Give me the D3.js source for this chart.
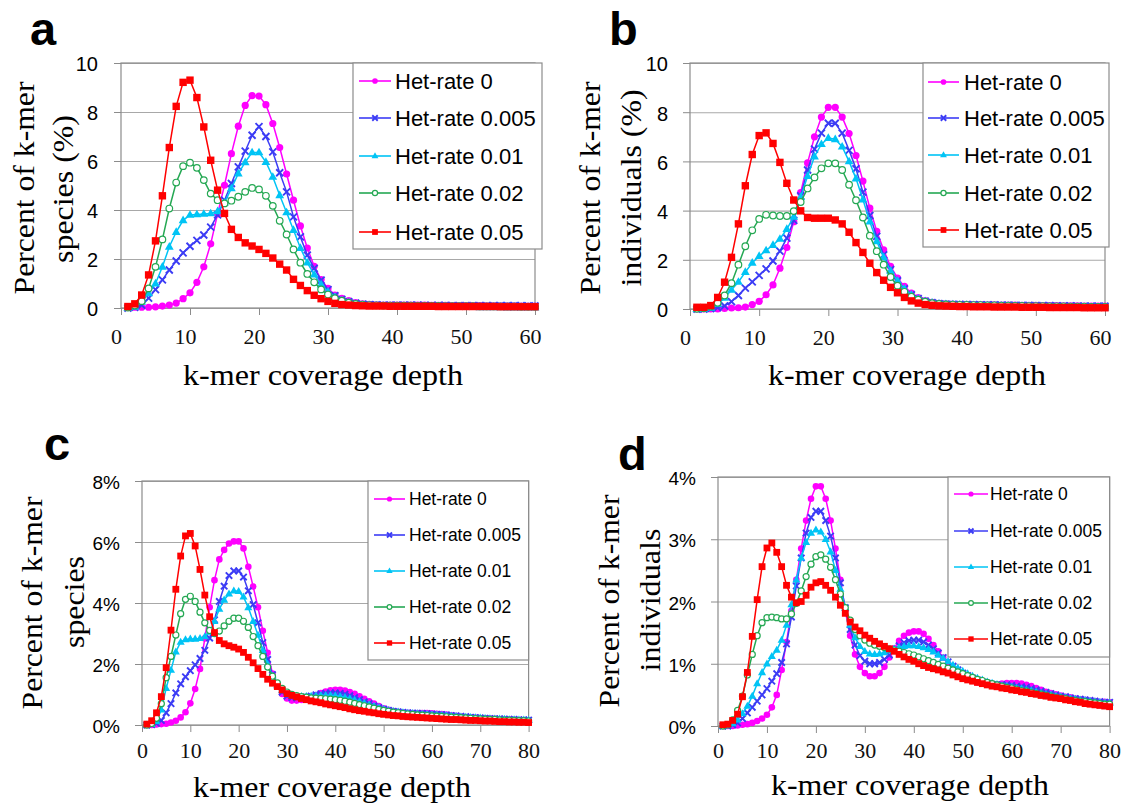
<!DOCTYPE html>
<html><head><meta charset="utf-8">
<script src="https://cdn.jsdelivr.net/npm/d3@7"></script>
<style>body{margin:0;background:#fff}svg{display:block}</style>
</head><body>
<svg id="chart" width="1129" height="807"></svg>
<script>
// ---------------- DATA ----------------
const seriesNames = ["Het-rate 0", "Het-rate 0.005", "Het-rate 0.01", "Het-rate 0.02", "Het-rate 0.05"];
const depth60 = d3.range(1, 61);
const depth80 = d3.range(1, 81);
const xTicks60 = [0, 10, 20, 30, 40, 50, 60];
const xTicks80 = [0, 10, 20, 30, 40, 50, 60, 70, 80];
const yTicksA = [0, 2, 4, 6, 8, 10];
const yTicksC = [0, 2, 4, 6, 8];
const yTicksD = [0, 1, 2, 3, 4];

// Panel a: percent of k-mer species (%), depth 1..60
const aHet0 = [0.03,0.03,0.03,0.03,0.05,0.08,0.12,0.2,0.38,0.62, 1.05,1.68,2.62,3.84,5.01,6.3,7.42,8.27,8.67,8.65, 8.3,7.53,6.55,5.47,4.4,3.35,2.45,1.7,1.16,0.8, 0.53,0.39,0.3,0.22,0.17,0.15,0.13,0.12,0.12,0.12, 0.12,0.12,0.12,0.12,0.11,0.11,0.11,0.1,0.1,0.1, 0.1,0.1,0.09,0.09,0.09,0.09,0.09,0.08,0.08,0.08];
const aHet005 = [0,0.03,0.12,0.4,0.75,1.15,1.55,1.92,2.25,2.52, 2.76,2.98,3.3,3.8,4.4,5.08,5.76,6.4,7.05,7.4, 7.0,6.37,5.52,4.74,3.72,2.9,2.16,1.62,1.14,0.75, 0.5,0.35,0.26,0.2,0.16,0.14,0.13,0.12,0.12,0.12, 0.12,0.12,0.12,0.11,0.11,0.11,0.11,0.1,0.1,0.1, 0.1,0.1,0.1,0.09,0.09,0.09,0.09,0.09,0.08,0.08];
const aHet01 = [0,0.05,0.25,0.6,1.0,1.68,2.5,3.1,3.58,3.8, 3.82,3.84,3.86,3.95,4.3,4.88,5.49,5.95,6.35,6.35, 5.96,5.35,4.6,3.9,3.18,2.45,1.85,1.36,0.96,0.66, 0.45,0.31,0.22,0.16,0.12,0.1,0.09,0.08,0.08,0.07, 0.07,0.07,0.06,0.06,0.06,0.05,0.05,0.05,0.04,0.04, 0.04,0.03,0.03,0.03,0.03,0.02,0.02,0.02,0.02,0.02];
const aHet02 = [0.02,0.1,0.28,0.8,1.68,2.8,4.06,5.12,5.79,5.93, 5.72,5.22,4.67,4.4,4.27,4.38,4.54,4.74,4.9,4.84, 4.58,4.17,3.56,3.0,2.39,1.85,1.39,1.05,0.76,0.55, 0.4,0.3,0.22,0.17,0.14,0.12,0.11,0.1,0.1,0.1, 0.1,0.1,0.09,0.09,0.09,0.09,0.08,0.08,0.08,0.08, 0.08,0.07,0.07,0.07,0.07,0.07,0.07,0.06,0.06,0.06];
const aHet05 = [0.06,0.17,0.53,1.35,2.74,4.58,6.55,8.23,9.21,9.3, 8.59,7.39,6.03,4.81,3.86,3.21,2.88,2.66,2.53,2.39, 2.23,2.04,1.79,1.55,1.17,0.92,0.71,0.52,0.38,0.27, 0.19,0.14,0.12,0.1,0.09,0.08,0.08,0.08,0.07,0.07, 0.07,0.07,0.07,0.07,0.07,0.06,0.06,0.06,0.06,0.06, 0.06,0.06,0.06,0.06,0.05,0.05,0.05,0.05,0.05,0.05];

// Panel b: percent of k-mer individuals (%), depth 1..60
const bHet0 = [0,0,0,0,0.02,0.04,0.05,0.08,0.18,0.31, 0.58,0.98,1.66,2.5,3.55,4.73,5.94,7.0,7.8,8.2, 8.2,7.8,7.13,6.24,5.2,4.1,3.16,2.4,1.73,1.26, 0.92,0.65,0.46,0.34,0.27,0.23,0.21,0.2,0.19,0.19, 0.18,0.18,0.17,0.17,0.16,0.16,0.16,0.15,0.15,0.15, 0.14,0.14,0.14,0.13,0.13,0.13,0.12,0.12,0.12,0.12];
const bHet005 = [0,0,0.02,0.06,0.13,0.3,0.55,0.85,1.1,1.37, 1.63,1.95,2.35,2.88,3.6,4.6,5.65,6.5,7.15,7.55, 7.55,7.15,6.45,5.7,4.75,3.8,2.95,2.2,1.6,1.15, 0.82,0.58,0.42,0.32,0.26,0.22,0.2,0.19,0.19,0.18, 0.18,0.17,0.17,0.17,0.16,0.16,0.15,0.15,0.15,0.14, 0.14,0.14,0.13,0.13,0.13,0.12,0.12,0.12,0.12,0.11];
const bHet01 = [0,0.01,0.05,0.2,0.45,0.78,1.1,1.5,1.88,2.15, 2.38,2.6,2.85,3.25,3.75,4.55,5.4,6.2,6.7,6.95, 6.9,6.6,6.0,5.3,4.45,3.55,2.75,2.1,1.55,1.15, 0.82,0.58,0.42,0.32,0.25,0.21,0.19,0.18,0.17,0.16, 0.15,0.15,0.14,0.13,0.13,0.12,0.11,0.11,0.1,0.1, 0.09,0.09,0.08,0.08,0.07,0.07,0.06,0.06,0.05,0.05];
const bHet02 = [0.01,0.03,0.1,0.25,0.55,1.05,1.8,2.55,3.2,3.66, 3.83,3.8,3.78,3.78,3.98,4.35,4.9,5.35,5.72,5.92, 5.92,5.65,5.05,4.42,3.72,2.98,2.35,1.8,1.3,0.95, 0.7,0.5,0.38,0.3,0.24,0.21,0.19,0.18,0.17,0.17, 0.16,0.16,0.15,0.15,0.14,0.14,0.13,0.13,0.12,0.12, 0.12,0.11,0.11,0.11,0.1,0.1,0.1,0.09,0.09,0.09];
const bHet05 = [0.07,0.07,0.14,0.47,1.09,2.1,3.46,5.01,6.28,7.05, 7.16,6.73,5.96,5.11,4.43,3.99,3.72,3.69,3.69,3.69, 3.62,3.46,3.12,2.7,2.3,1.86,1.48,1.17,0.88,0.66, 0.47,0.33,0.24,0.18,0.15,0.13,0.12,0.11,0.1,0.1, 0.09,0.09,0.09,0.08,0.08,0.08,0.08,0.07,0.07,0.07, 0.07,0.06,0.06,0.06,0.06,0.06,0.05,0.05,0.05,0.05];

// Panel c: percent of k-mer species, depth 1..80
const cHet0 = [0,0,0.02,0.03,0.04,0.08,0.14,0.25,0.42,0.71, 1.18,1.84,2.84,3.86,4.75,5.43,5.74,5.95,6.02,6.02, 5.79,5.19,4.54,3.86,3.09,2.37,1.69,1.28,1.02,0.87, 0.8,0.8,0.82,0.86,0.92,0.98,1.05,1.1,1.14,1.15, 1.15,1.13,1.08,1.02,0.94,0.86,0.78,0.7,0.62,0.55, 0.5,0.46,0.43,0.41,0.4,0.39,0.39,0.39,0.39,0.38, 0.37,0.36,0.34,0.32,0.3,0.28,0.26,0.25,0.24,0.23, 0.22,0.21,0.2,0.19,0.18,0.18,0.17,0.16,0.16,0.15];
const cHet005 = [0,0.01,0.05,0.15,0.4,0.7,1.05,1.35,1.58,1.78, 1.97,2.18,2.45,2.85,3.45,4.05,4.55,4.9,5.05,5.05, 4.85,4.4,3.95,3.35,2.7,2.15,1.65,1.3,1.08,0.95, 0.9,0.89,0.9,0.92,0.95,0.99,1.02,1.04,1.05,1.05, 1.04,1.01,0.96,0.9,0.83,0.76,0.7,0.63,0.57,0.52, 0.48,0.45,0.43,0.41,0.4,0.39,0.38,0.38,0.37,0.36, 0.35,0.34,0.33,0.31,0.3,0.28,0.27,0.25,0.24,0.23, 0.22,0.21,0.2,0.2,0.19,0.18,0.18,0.17,0.17,0.16];
const cHet01 = [0,0.02,0.12,0.5,1.2,1.8,2.4,2.72,2.8,2.82, 2.82,2.84,2.9,3.05,3.4,3.8,4.1,4.3,4.4,4.38, 4.2,3.85,3.4,2.95,2.45,2.0,1.6,1.32,1.14,1.04, 0.98,0.95,0.94,0.94,0.95,0.96,0.97,0.97,0.97,0.96, 0.94,0.91,0.87,0.82,0.77,0.72,0.67,0.62,0.57,0.52, 0.48,0.45,0.43,0.41,0.39,0.38,0.37,0.36,0.35,0.34, 0.33,0.32,0.31,0.3,0.28,0.27,0.26,0.25,0.24,0.23, 0.22,0.21,0.2,0.2,0.19,0.18,0.18,0.17,0.17,0.16];
const cHet02 = [0,0.05,0.22,0.7,1.55,2.25,2.95,3.65,4.12,4.22, 4.05,3.7,3.35,3.1,3.0,3.08,3.25,3.4,3.5,3.5, 3.4,3.2,2.9,2.6,2.25,1.9,1.6,1.38,1.2,1.08, 1.0,0.96,0.93,0.91,0.89,0.88,0.87,0.86,0.85,0.83, 0.81,0.78,0.75,0.71,0.67,0.63,0.59,0.55,0.51,0.48, 0.45,0.42,0.4,0.38,0.36,0.35,0.33,0.32,0.31,0.3, 0.29,0.28,0.27,0.26,0.25,0.24,0.23,0.22,0.21,0.2, 0.19,0.18,0.18,0.17,0.16,0.16,0.15,0.14,0.14,0.13];
const cHet05 = [0.03,0.14,0.4,0.93,1.88,3.11,4.45,5.54,6.2,6.28, 5.87,5.1,4.26,3.55,3.03,2.77,2.66,2.6,2.55,2.49, 2.38,2.22,2.04,1.85,1.66,1.5,1.37,1.26,1.15,1.03, 0.97,0.92,0.87,0.83,0.79,0.76,0.73,0.69,0.66,0.63, 0.6,0.57,0.53,0.5,0.47,0.45,0.42,0.4,0.37,0.35, 0.33,0.31,0.3,0.28,0.27,0.26,0.25,0.24,0.23,0.22, 0.21,0.2,0.19,0.18,0.18,0.17,0.16,0.15,0.15,0.14, 0.13,0.13,0.12,0.11,0.11,0.1,0.1,0.09,0.09,0.08];

// Panel d: percent of k-mer individuals, depth 1..80
const dHet0 = [0,0,0,0.01,0.02,0.03,0.05,0.08,0.12,0.18, 0.3,0.5,0.9,1.35,1.85,2.35,2.85,3.3,3.65,3.85, 3.85,3.65,3.3,2.85,2.35,1.85,1.45,1.15,0.95,0.85, 0.8,0.8,0.85,0.95,1.1,1.25,1.37,1.45,1.5,1.52, 1.52,1.48,1.4,1.3,1.2,1.1,1.0,0.92,0.85,0.8, 0.76,0.73,0.7,0.68,0.67,0.67,0.67,0.68,0.69,0.69, 0.69,0.68,0.66,0.64,0.61,0.58,0.55,0.53,0.51,0.49, 0.47,0.46,0.44,0.43,0.42,0.41,0.4,0.39,0.39,0.38];
const dHet005 = [0,0,0.02,0.05,0.12,0.21,0.3,0.4,0.5,0.6, 0.72,0.84,1.02,1.32,1.75,2.25,2.7,3.1,3.35,3.45, 3.45,3.3,3.05,2.7,2.3,1.9,1.55,1.3,1.13,1.04, 1.0,1.0,1.02,1.07,1.14,1.22,1.29,1.34,1.37,1.38, 1.38,1.35,1.3,1.24,1.17,1.1,1.03,0.96,0.9,0.85, 0.81,0.77,0.74,0.71,0.69,0.67,0.66,0.66,0.66,0.65, 0.64,0.63,0.62,0.6,0.58,0.56,0.54,0.52,0.5,0.48, 0.47,0.45,0.44,0.43,0.42,0.41,0.4,0.39,0.38,0.38];
const dHet01 = [0,0.01,0.04,0.1,0.2,0.32,0.48,0.68,0.86,1.0, 1.12,1.22,1.38,1.62,1.95,2.35,2.7,2.95,3.1,3.15, 3.12,3.0,2.8,2.5,2.2,1.9,1.62,1.42,1.28,1.2, 1.16,1.15,1.16,1.18,1.21,1.24,1.26,1.28,1.29,1.29, 1.28,1.26,1.23,1.19,1.14,1.09,1.04,0.98,0.93,0.88, 0.84,0.8,0.77,0.74,0.71,0.69,0.67,0.65,0.64,0.63, 0.61,0.6,0.58,0.57,0.55,0.53,0.51,0.5,0.48,0.47, 0.45,0.44,0.43,0.42,0.41,0.4,0.39,0.38,0.37,0.37];
const dHet02 = [0,0.02,0.1,0.25,0.48,0.82,1.15,1.45,1.66,1.74, 1.75,1.74,1.72,1.72,1.8,1.97,2.17,2.4,2.6,2.72, 2.75,2.68,2.55,2.35,2.12,1.9,1.7,1.55,1.45,1.38, 1.33,1.3,1.28,1.26,1.24,1.22,1.2,1.18,1.16,1.14, 1.11,1.08,1.05,1.02,0.99,0.96,0.93,0.9,0.87,0.84, 0.81,0.78,0.75,0.73,0.7,0.68,0.66,0.64,0.62,0.61, 0.59,0.57,0.56,0.54,0.52,0.51,0.49,0.48,0.46,0.45, 0.44,0.42,0.41,0.4,0.39,0.38,0.37,0.36,0.35,0.35];
const dHet05 = [0.02,0.03,0.09,0.19,0.47,0.86,1.44,2.03,2.56,2.86, 2.94,2.79,2.56,2.26,2.07,1.98,2.0,2.1,2.23,2.3, 2.32,2.26,2.18,2.07,1.94,1.81,1.67,1.59,1.53,1.46, 1.41,1.36,1.32,1.28,1.24,1.2,1.15,1.11,1.07,1.04, 1.0,0.97,0.94,0.92,0.9,0.87,0.85,0.82,0.79,0.76, 0.74,0.72,0.7,0.68,0.66,0.64,0.63,0.61,0.6,0.58, 0.57,0.55,0.54,0.52,0.51,0.49,0.48,0.46,0.45,0.44, 0.42,0.41,0.39,0.38,0.36,0.35,0.34,0.33,0.32,0.31];

// ---------------- STYLE ----------------
const colors = ["#FF00FF", "#3C3CF5", "#00C4F5", "#25A853", "#FF0000"];
const markerTypes = ["dot", "x", "tri", "ring", "sq"];
const SANS = "'Liberation Sans', Arial, sans-serif";
const SERIF = "'Liberation Serif', 'Times New Roman', serif";
const svg = d3.select("#chart");

function marker(g, type, color, px, py, ms) {
  if (type === "dot") {
    g.append("circle").attr("cx", px).attr("cy", py).attr("r", 3.6 * ms).attr("fill", color);
  } else if (type === "ring") {
    g.append("circle").attr("cx", px).attr("cy", py).attr("r", 3.3 * ms)
      .attr("fill", "#fff").attr("stroke", color).attr("stroke-width", 1.2);
  } else if (type === "sq") {
    const s = 7.4 * ms;
    g.append("rect").attr("x", px - s / 2).attr("y", py - s / 2).attr("width", s).attr("height", s).attr("fill", color);
  } else if (type === "tri") {
    const s = 8.8 * ms, h = s * 0.87;
    g.append("path").attr("d", `M${px},${py - h * 0.62}L${px + s / 2},${py + h * 0.38}L${px - s / 2},${py + h * 0.38}Z`).attr("fill", color);
  } else if (type === "x") {
    const a = 3.5 * ms;
    g.append("path").attr("d", `M${px - a},${py - a}L${px + a},${py + a}M${px - a},${py + a}L${px + a},${py - a}`)
      .attr("stroke", color).attr("stroke-width", 1.9).attr("fill", "none");
  }
}

function drawPanel(p) {
  const g = svg.append("g");
  const x = d3.scaleLinear().domain([0, p.xMax]).range([p.left, p.right]);
  const y = d3.scaleLinear().domain([0, p.yMax]).range([p.bottom, p.top]);

  // gridlines
  g.append("g").attr("transform", `translate(${p.left},0)`)
    .call(d3.axisLeft(y).tickValues(p.yTicks).tickSize(-(p.right - p.left)).tickFormat(""))
    .call(a => a.select(".domain").remove())
    .call(a => a.selectAll("line").attr("stroke", "#A8A8A8").attr("stroke-width", 1.1));

  // y axis ticks and labels
  g.append("g").attr("transform", `translate(${p.left},0)`)
    .call(d3.axisLeft(y).tickValues(p.yTicks).tickSize(7).tickPadding(p.yPad).tickFormat(p.yFmt))
    .call(a => a.select(".domain").remove())
    .call(a => a.selectAll("line").attr("stroke", "#8C8C8C"))
    .call(a => a.selectAll("text").attr("font-family", SANS).attr("font-size", p.yFs).attr("fill", "#000")
      .attr("transform", "translate(0,1.5)"));

  // x axis
  g.append("g").attr("transform", `translate(0,${p.bottom})`)
    .call(d3.axisBottom(x).tickValues(p.xTicks).tickSize(7).tickPadding(p.xPad))
    .call(a => a.select(".domain").remove())
    .call(a => a.selectAll("line").attr("stroke", "#8C8C8C"))
    .call(a => a.selectAll("text").attr("font-family", SERIF).attr("font-size", 22).attr("fill", "#111").attr("dx", p.xDx));

  // frame
  g.append("rect").attr("x", p.left).attr("y", p.top).attr("width", p.right - p.left).attr("height", p.bottom - p.top)
    .attr("fill", "none").attr("stroke", "#8C8C8C").attr("stroke-width", 1.2);

  // series
  const line = d3.line().x((d, i) => x(p.depth[i])).y(d => y(d));
  p.series.forEach((vals, si) => {
    const sg = g.append("g");
    sg.append("path").datum(vals).attr("d", line).attr("fill", "none")
      .attr("stroke", colors[si]).attr("stroke-width", 1.5);
    vals.forEach((v, i) => marker(sg, markerTypes[si], colors[si], x(p.depth[i]), y(v), p.ms));
  });

  // legend
  const L = p.legend;
  const lg = g.append("g");
  lg.append("rect").attr("x", L.x).attr("y", L.y).attr("width", L.w).attr("height", L.h)
    .attr("fill", "#fff").attr("stroke", "#8C8C8C").attr("stroke-width", 1.2);
  seriesNames.forEach((name, si) => {
    const ry = L.rows[si];
    lg.append("line").attr("x1", L.x1).attr("x2", L.x2).attr("y1", ry).attr("y2", ry)
      .attr("stroke", colors[si]).attr("stroke-width", 1.6);
    marker(lg, markerTypes[si], colors[si], (L.x1 + L.x2) / 2, ry, p.ms * 0.78);
    lg.append("text").attr("x", L.tx).attr("y", ry).attr("dy", "0.36em")
      .attr("font-family", SANS).attr("font-size", L.fs).attr("fill", "#000").text(name);
  });

  // panel letter
  g.append("text").attr("x", p.letter.x).attr("y", p.letter.y).text(p.letter.t)
    .attr("font-family", SANS).attr("font-weight", "bold").attr("font-size", 47).attr("fill", "#000");

  // x title
  g.append("text").attr("x", p.xTitle.x).attr("y", p.xTitle.y).attr("text-anchor", "middle")
    .attr("textLength", p.xTitle.len).attr("lengthAdjust", "spacingAndGlyphs")
    .attr("font-family", SERIF).attr("font-size", 30).attr("fill", "#000").text("k-mer coverage depth");

  // y title lines
  p.yTitle.forEach(t => {
    g.append("text").attr("transform", `translate(${t.x},${t.y}) rotate(-90)`)
      .attr("text-anchor", "middle").attr("dy", "0.35em")
      .attr("textLength", t.len).attr("lengthAdjust", "spacingAndGlyphs")
      .attr("font-family", SERIF).attr("font-size", 30).attr("fill", "#000").text(t.text);
  });
}

drawPanel({
  left: 121, right: 535, top: 63, bottom: 308, xMax: 60, yMax: 10,
  xTicks: xTicks60, yTicks: yTicksA, yFmt: d => d, yFs: 20, yPad: 16, xPad: 13, xDx: -5, ms: 1,
  depth: depth60, series: [aHet0, aHet005, aHet01, aHet02, aHet05],
  legend: { x: 353, y: 63, w: 189, h: 186, rows: [81, 118, 156, 193, 232], x1: 359, x2: 391, tx: 395, fs: 22 },
  letter: { t: "a", x: 30, y: 45 },
  xTitle: { x: 323, y: 385, len: 280 },
  yTitle: [{ x: 23, y: 188, text: "Percent of k-mer", len: 213 }, { x: 62, y: 189, text: "species (%)", len: 148 }]
});
drawPanel({
  left: 690, right: 1105, top: 63, bottom: 309, xMax: 60, yMax: 10,
  xTicks: xTicks60, yTicks: yTicksA, yFmt: d => d, yFs: 20, yPad: 15, xPad: 13, xDx: -5, ms: 1,
  depth: depth60, series: [bHet0, bHet005, bHet01, bHet02, bHet05],
  legend: { x: 923, y: 63, w: 186, h: 184, rows: [82, 118, 155, 193, 230], x1: 928, x2: 959, tx: 964, fs: 22 },
  letter: { t: "b", x: 609, y: 45 },
  xTitle: { x: 907, y: 385, len: 278 },
  yTitle: [{ x: 589, y: 188, text: "Percent of k-mer", len: 213 }, { x: 630, y: 188, text: "individuals (%)", len: 197 }]
});
drawPanel({
  left: 142, right: 528.6, top: 481, bottom: 725, xMax: 80, yMax: 8,
  xTicks: xTicks80, yTicks: yTicksC, yFmt: d => d + "%", yFs: 19, yPad: 15, xPad: 10, xDx: 0, ms: 0.92,
  depth: depth80, series: [cHet0, cHet005, cHet01, cHet02, cHet05],
  legend: { x: 368, y: 481, w: 160.6, h: 179, rows: [499, 535, 571, 607, 643], x1: 374, x2: 405, tx: 409, fs: 17.5 },
  letter: { t: "c", x: 44, y: 460 },
  xTitle: { x: 332, y: 797, len: 278 },
  yTitle: [{ x: 31, y: 603, text: "Percent of k-mer", len: 213 }, { x: 73, y: 602, text: "species", len: 92 }]
});
drawPanel({
  left: 718, right: 1109.6, top: 477, bottom: 726, xMax: 80, yMax: 4,
  xTicks: xTicks80, yTicks: yTicksD, yFmt: d => d + "%", yFs: 19, yPad: 15, xPad: 9, xDx: 0, ms: 0.92,
  depth: depth80, series: [dHet0, dHet005, dHet01, dHet02, dHet05],
  legend: { x: 948, y: 477, w: 161.6, h: 180, rows: [494, 531, 567, 603, 639], x1: 954, x2: 988, tx: 990, fs: 17.5 },
  letter: { t: "d", x: 618, y: 470 },
  xTitle: { x: 910, y: 795, len: 278 },
  yTitle: [{ x: 608, y: 601, text: "Percent of k-mer", len: 213 }, { x: 649, y: 600, text: "individuals", len: 143 }]
});
</script>
</body></html>
